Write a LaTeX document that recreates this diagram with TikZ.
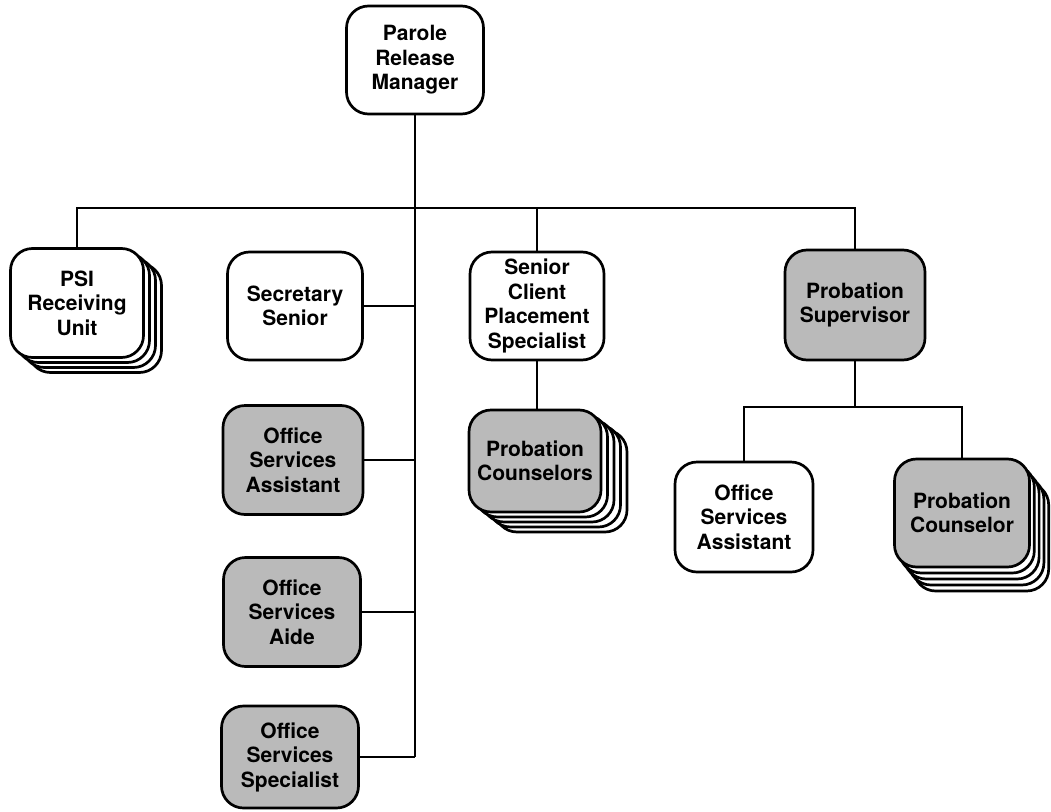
\documentclass[tikz,border=0pt]{standalone}
\usepackage{fontspec}
\setmainfont{TeX Gyre Heros}
\usetikzlibrary{shadows}
\begin{document}
\begin{tikzpicture}[x=1pt,y=-1pt,
  unit/.style={draw=black, line width=2.7pt, rounded corners=22pt, fill=white,
    inner sep=0pt, align=center,
    font=\bfseries\fontsize{21}{24.5}\selectfont},
  shaded/.style={unit, fill=black!27},
  stackthree/.style={
    copy shadow={shadow xshift=18pt, shadow yshift=-15pt, fill=white},
    copy shadow={shadow xshift=12pt, shadow yshift=-10pt, fill=white},
    copy shadow={shadow xshift=6pt, shadow yshift=-5pt, fill=white}},
  stackfour/.style 2 args={
    copy shadow={shadow xshift=4*#1, shadow yshift=-4*#2, fill=white},
    copy shadow={shadow xshift=3*#1, shadow yshift=-3*#2, fill=white},
    copy shadow={shadow xshift=2*#1, shadow yshift=-2*#2, fill=white},
    copy shadow={shadow xshift=#1, shadow yshift=-#2, fill=white}},
  link/.style={draw=black, line width=1.8pt}]

\useasboundingbox (0,0) rectangle (1051,811);

% top of the chart
\node[unit, minimum width=137pt, minimum height=108pt] (mgr) at (415,60)
  {Parole\\Release\\Manager};

% first level
\node[unit, stackthree, minimum width=133pt, minimum height=109pt] (psi) at (77,303)
  {PSI\\Receiving\\Unit};
\node[unit, minimum width=135pt, minimum height=108pt] (sec) at (295,306)
  {Secretary\\Senior};
\node[unit, minimum width=134pt, minimum height=108pt] (scps) at (537,306)
  {Senior\\Client\\Placement\\Specialist};
\node[shaded, minimum width=140pt, minimum height=110pt] (psup) at (855,305)
  {Probation\\Supervisor};

% office staff along the trunk
\node[shaded, minimum width=140pt, minimum height=109pt] (osa) at (293,460)
  {Office\\Services\\Assistant};
\node[shaded, minimum width=137pt, minimum height=109pt] (aide) at (292,612)
  {Office\\Services\\Aide};
\node[shaded, minimum width=137pt, minimum height=102pt] (oss) at (290,757)
  {Office\\Services\\Specialist};

% counselors
\node[shaded, stackfour={6.5pt}{5pt}, minimum width=132pt, minimum height=102pt] (pcs) at (535,461)
  {Probation\\Counselors};
\node[unit, minimum width=138pt, minimum height=110pt] (osb) at (744,517)
  {Office\\Services\\Assistant};
\node[shaded, stackfour={4.8pt}{6pt}, minimum width=135pt, minimum height=108pt] (pc) at (962,513)
  {Probation\\Counselor};

% bus lines
\coordinate (bus) at (415,208);
\coordinate (bustwo) at (855,407);

\draw[link] (mgr.south) -- (mgr.south |- oss.east);
\draw[link] (psi.north) |- (psup.north |- bus) -- (psup.north);
\draw[link] (scps.north) -- (scps.north |- bus);
\draw[link] (sec.east) -- (sec.east -| mgr.south);
\draw[link] (osa.east) -- (osa.east -| mgr.south);
\draw[link] (aide.east) -- (aide.east -| mgr.south);
\draw[link] (oss.east) -- (oss.east -| mgr.south);
\draw[link] (scps.south) -- (scps.south |- pcs.north);
\draw[link] (psup.south) -- (psup.south |- bustwo);
\draw[link] (osb.north) |- (pc.north |- bustwo) -- (pc.north);

\end{tikzpicture}
\end{document}
